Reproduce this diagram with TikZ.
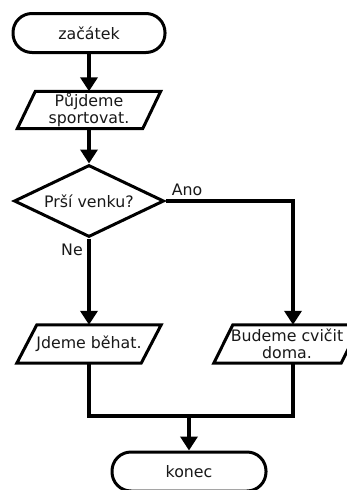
\documentclass[tikz,border=0pt]{standalone}
\usepackage{fontspec}
\setmainfont{DejaVu Sans}
\usetikzlibrary{arrows.meta,shapes.geometric}
\newcommand{\paraframe}[2]{%
  \draw[outl] ([xshift=-#2pt]#1.south west) -- ([xshift=#2pt]#1.north west) -- ([xshift=#2pt]#1.north east) -- ([xshift=-#2pt]#1.south east) -- cycle;}
\begin{document}
\begin{tikzpicture}[x=1pt,y=-1pt,
  every node/.style={font=\fontsize{15.8}{16.5}\selectfont, text=black!90},
  outl/.style={draw=black, line width=3pt, line join=miter},
  term/.style={outl, rectangle, rounded corners=19pt, minimum width=152pt, minimum height=39pt, inner sep=0pt},
  ptext/.style={inner sep=0pt, align=center},
  dec/.style={outl, diamond, aspect=2, inner sep=1pt, minimum width=150pt, minimum height=72pt},
  conn/.style={line width=3.6pt, line join=miter},
  arr/.style={conn, -{Triangle[length=14pt,width=17pt]}},
  lbl/.style={inner sep=0pt}]
\clip (0,0) rectangle (347,490);
\fill[white] (0,0) rectangle (347,490);

\node[term] (start) at (89,33) {začátek};
\node[ptext, minimum width=125pt, minimum height=37pt] (p1) at (89,110) {Půjdeme\\sportovat.};
\paraframe{p1}{9}
\node[dec] (dec) at (89,201) {Prší venku?};
\node[ptext, minimum width=124pt, minimum height=38pt] (p2) at (89,344) {Jdeme běhat.};
\paraframe{p2}{10}
\node[ptext, minimum width=127pt, minimum height=38pt] (p3) at (287,344) {Budeme cvičit\\doma.};
\paraframe{p3}{9.5}
\node[term, minimum width=154pt] (stop) at (189,471.5) {konec};

\node[lbl] (ano) at (187,190) {Ano};
\node[lbl] (ne) at (72,250) {Ne};

\coordinate (merge) at (189,416);

\draw[arr] (start.south) -- (p1.north);
\draw[arr] (p1.south) -- (dec.north);
\draw[arr] (dec.east) -| ([xshift=6pt]p3.north);
\draw[arr] (dec.south) -- (p2.north);
\draw[conn] (p2.south) |- (merge) -| ([xshift=6pt]p3.south);
\draw[arr] (merge) -- (stop.north);
\end{tikzpicture}
\end{document}
